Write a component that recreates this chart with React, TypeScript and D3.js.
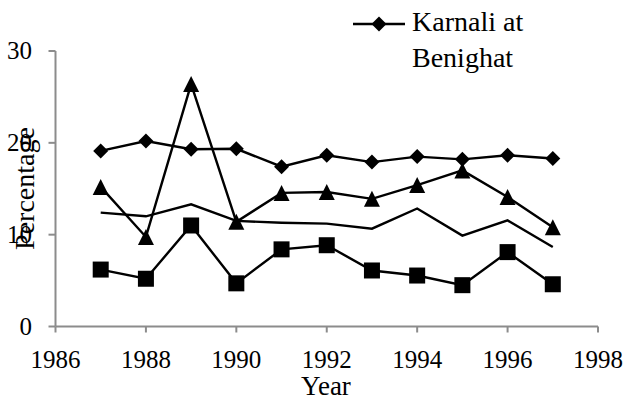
import React from "react";
import * as d3 from "d3";

const years = [1987, 1988, 1989, 1990, 1991, 1992, 1993, 1994, 1995, 1996, 1997];
const karnaliBenighat = [19.12, 20.2, 19.3, 19.35, 17.4, 18.65, 17.9, 18.5, 18.2, 18.65, 18.3];
const triangleSeries = [15.2, 9.75, 26.4, 11.4, 14.55, 14.65, 13.9, 15.4, 17.0, 14.1, 10.8];
const plainSeries = [12.4, 12.0, 13.3, 11.5, 11.3, 11.2, 10.65, 12.85, 9.9, 11.55, 8.65];
const squareSeries = [6.2, 5.2, 11.0, 4.7, 8.4, 8.85, 6.1, 5.55, 4.5, 8.1, 4.6];
const xTicks = [1986, 1988, 1990, 1992, 1994, 1996, 1998];
const yTicks = [0, 10, 20, 30];
const legendLabel = ["Karnali at", "Benighat"];

const W = 624;
const H = 401;
const left = 55.5;
const right = 598;
const top = 51;
const bottom = 326.5;
const FONT = "Liberation Serif, Times New Roman, serif";
const AXIS = "#8c8c8c";

export default function App() {
  const x = d3.scaleLinear().domain([1986, 1998]).range([left, right]);
  const y = d3.scaleLinear().domain([0, 30]).range([bottom, top]);
  const line = d3
    .line<number>()
    .x((_, i) => x(years[i]))
    .y((d) => y(d));

  const diamond = (cx: number, cy: number, r = 7.5) =>
    `M${cx},${cy - r}L${cx + r},${cy}L${cx},${cy + r}L${cx - r},${cy}Z`;
  const tri = (cx: number, cy: number, s = 8) =>
    `M${cx},${cy - s}L${cx + s},${cy + s}L${cx - s},${cy + s}Z`;

  const txt = { fontFamily: FONT, fill: "#000" } as React.CSSProperties;

  return (
    <svg width={W} height={H} style={{ position: "absolute", left: 0, top: 0, background: "#fff" }}>
      {/* axes */}
      <line x1={left} x2={left} y1={top} y2={bottom} stroke={AXIS} strokeWidth={2} />
      <line x1={left} x2={right} y1={bottom} y2={bottom} stroke={AXIS} strokeWidth={2} />
      {yTicks.map((t) => (
        <g key={"y" + t}>
          <line x1={left - 7} x2={left} y1={y(t)} y2={y(t)} stroke={AXIS} strokeWidth={2} />
          <text x={32} y={y(t)} dy="0.33em" textAnchor="end" style={{ ...txt, fontSize: 25 }}>
            {t}
          </text>
        </g>
      ))}
      {xTicks.map((t) => (
        <g key={"x" + t}>
          <line x1={x(t)} x2={x(t)} y1={bottom} y2={bottom + 6} stroke={AXIS} strokeWidth={2} />
          <text x={x(t)} y={368} textAnchor="middle" style={{ ...txt, fontSize: 25 }}>
            {t}
          </text>
        </g>
      ))}
      <text x={326} y={395} textAnchor="middle" style={{ ...txt, fontSize: 27 }}>
        Year
      </text>
      <text
        transform={`translate(34,188.5) rotate(-90)`}
        textAnchor="middle"
        style={{ ...txt, fontSize: 28 }}
      >
        Percentage
      </text>

      {/* series */}
      {[karnaliBenighat, triangleSeries, plainSeries, squareSeries].map((s, k) => (
        <path key={"l" + k} d={line(s) || ""} fill="none" stroke="#000" strokeWidth={2.4} strokeLinejoin="miter" />
      ))}
      {karnaliBenighat.map((v, i) => (
        <path key={"d" + i} d={diamond(x(years[i]), y(v))} fill="#000" />
      ))}
      {triangleSeries.map((v, i) => (
        <path key={"t" + i} d={tri(x(years[i]), y(v))} fill="#000" />
      ))}
      {squareSeries.map((v, i) => (
        <rect key={"s" + i} x={x(years[i]) - 8} y={y(v) - 8} width={16} height={16} fill="#000" />
      ))}

      {/* legend */}
      <line x1={353} x2={405} y1={24} y2={24} stroke="#000" strokeWidth={2.4} />
      <path d={diamond(379, 24)} fill="#000" />
      <text x={412} y={31} style={{ ...txt, fontSize: 28 }}>
        {legendLabel[0]}
      </text>
      <text x={412} y={67} style={{ ...txt, fontSize: 28 }}>
        {legendLabel[1]}
      </text>
    </svg>
  );
}
